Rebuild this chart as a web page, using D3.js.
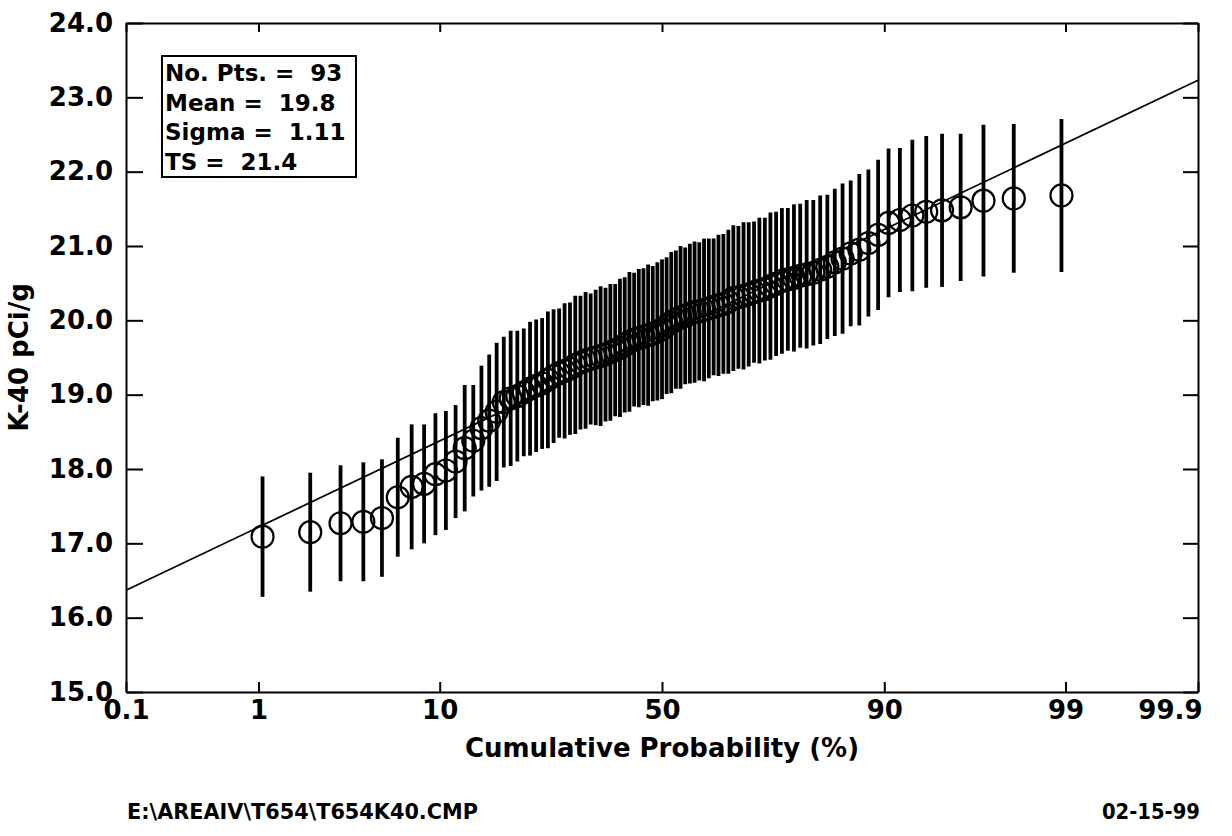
<!DOCTYPE html>
<html>
<head>
<meta charset="utf-8">
<script src="https://cdn.jsdelivr.net/npm/d3@7"></script>
<style>
  html, body { margin: 0; padding: 0; background: #fff; overflow: hidden; }
  svg { display: block; font-family: 'DejaVu Sans', sans-serif; font-weight: bold; }
  .axis path, .axis line { stroke: #000; stroke-width: 2; }
  .axis text { font-family: 'DejaVu Sans', sans-serif; font-weight: bold; font-size: 26px; fill: #000; }
</style>
</head>
<body>
<div id="chart"></div>
<script>
// K-40 probability plot: sorted values vs. cumulative probability (normal scale)

// sorted K-40 concentrations (pCi/g)
const kValues = [
  17.09, 17.15, 17.27, 17.29, 17.34, 17.62, 17.76, 17.80, 17.93, 17.98,
  18.10, 18.28, 18.38, 18.55, 18.65, 18.77, 18.90, 18.95, 18.98, 19.03,
  19.08, 19.12, 19.15, 19.20, 19.25, 19.29, 19.32, 19.35, 19.40, 19.43,
  19.46, 19.48, 19.50, 19.52, 19.54, 19.57, 19.60, 19.63, 19.67, 19.71,
  19.74, 19.76, 19.78, 19.80, 19.82, 19.85, 19.88, 19.93, 19.97, 20.01,
  20.04, 20.06, 20.09, 20.11, 20.12, 20.14, 20.16, 20.18, 20.20, 20.22,
  20.25, 20.30, 20.31, 20.33, 20.35, 20.38, 20.40, 20.42, 20.46, 20.49,
  20.53, 20.55, 20.57, 20.60, 20.62, 20.64, 20.68, 20.72, 20.78, 20.83,
  20.90, 20.95, 21.04, 21.15, 21.31, 21.35, 21.41, 21.46, 21.48, 21.52,
  21.61, 21.64, 21.68
];

// half-length of each error bar (pCi/g)
const kErrors = [
  0.81, 0.80, 0.78, 0.80, 0.79, 0.80, 0.84, 0.80, 0.82, 0.80,
  0.76, 0.85, 0.75, 0.84, 0.89, 0.93, 0.88, 0.91, 0.88, 0.86,
  0.90, 0.89, 0.88, 0.92, 0.90, 0.87, 0.91, 0.89, 0.93, 0.90,
  0.92, 0.88, 0.91, 0.94, 0.90, 0.92, 0.89, 0.93, 0.91, 0.94,
  0.90, 0.93, 0.92, 0.95, 0.91, 0.93, 0.94, 0.92, 0.95, 0.93,
  0.96, 0.92, 0.94, 0.95, 0.93, 0.96, 0.94, 0.92, 0.95, 0.94,
  0.97, 0.98, 0.96, 0.99, 0.97, 0.95, 0.98, 0.96, 0.99, 0.97,
  0.98, 0.96, 0.99, 0.97, 1.00, 0.98, 1.00, 0.97, 0.99, 1.01,
  0.98, 1.02, 0.99, 1.01, 1.00, 0.97, 1.02, 1.02, 1.03, 0.99,
  1.02, 1.00, 1.03
];

const fitMean = 19.8;
const fitSigma = 1.11;

const probTicks = [0.1, 1, 10, 50, 90, 99, 99.9];
const probLabels = ['0.1', '1', '10', '50', '90', '99', '99.9'];
const yTicks = [15, 16, 17, 18, 19, 20, 21, 22, 23, 24];

const statsLines = ['No. Pts. =  93', 'Mean =  19.8', 'Sigma =  1.11', 'TS =  21.4'];
const xTitle = 'Cumulative Probability (%)';
const yTitle = 'K-40 pCi/g';
const fileLabel = 'E:\\AREAIV\\T654\\T654K40.CMP';
const dateLabel = '02-15-99';

// inverse normal CDF (Acklam's rational approximation)
function probit(p) {
  const a = [-3.969683028665376e+01, 2.209460984245205e+02, -2.759285104469687e+02,
             1.383577518672690e+02, -3.066479806614716e+01, 2.506628277459239e+00];
  const b = [-5.447609879822406e+01, 1.615858368580409e+02, -1.556989798598866e+02,
             6.680131188771972e+01, -1.328068155288572e+01];
  const c = [-7.784894002430293e-03, -3.223964580411365e-01, -2.400758277161838e+00,
             -2.549732539343734e+00, 4.374664141464968e+00, 2.938163982698783e+00];
  const d = [7.784695709041462e-03, 3.224671290700398e-01, 2.445134137142996e+00,
             3.754408661907416e+00];
  const plow = 0.02425;
  let q, r;
  if (p < plow) {
    q = Math.sqrt(-2 * Math.log(p));
    return (((((c[0]*q+c[1])*q+c[2])*q+c[3])*q+c[4])*q+c[5]) /
           ((((d[0]*q+d[1])*q+d[2])*q+d[3])*q+1);
  }
  if (p > 1 - plow) {
    q = Math.sqrt(-2 * Math.log(1 - p));
    return -(((((c[0]*q+c[1])*q+c[2])*q+c[3])*q+c[4])*q+c[5]) /
            ((((d[0]*q+d[1])*q+d[2])*q+d[3])*q+1);
  }
  q = p - 0.5;
  r = q * q;
  return (((((a[0]*r+a[1])*r+a[2])*r+a[3])*r+a[4])*r+a[5])*q /
         (((((b[0]*r+b[1])*r+b[2])*r+b[3])*r+b[4])*r+1);
}

const width = 1232;
const height = 836;
const margin = { top: 23, right: 34, bottom: 144, left: 126 };
const innerWidth = width - margin.left - margin.right;
const innerHeight = height - margin.top - margin.bottom;

const svg = d3.select('#chart')
  .append('svg')
  .attr('width', width)
  .attr('height', height);

svg.append('rect')
  .attr('width', width)
  .attr('height', height)
  .attr('fill', '#fff');

const g = svg.append('g')
  .attr('transform', `translate(${margin.left},${margin.top})`);

// x works in normal-score units; ticks are placed at probit(p)
const x = d3.scaleLinear()
  .domain([probit(0.001), probit(0.999)])
  .range([0, innerWidth]);

const y = d3.scaleLinear()
  .domain([15, 24])
  .range([innerHeight, 0]);

const n = kValues.length;
const points = kValues.map((v, i) => ({
  z: probit((i + 1) / (n + 1)),
  v: v,
  e: kErrors[i]
}));

// error bars
g.selectAll('.err')
  .data(points)
  .enter().append('line')
  .attr('class', 'err')
  .attr('x1', d => x(d.z))
  .attr('x2', d => x(d.z))
  .attr('y1', d => y(d.v - d.e))
  .attr('y2', d => y(d.v + d.e))
  .attr('stroke', '#000')
  .attr('stroke-width', 3.8);

// fitted normal line
g.append('path')
  .datum(x.domain())
  .attr('d', d3.line()
    .x(z => x(z))
    .y(z => y(fitMean + fitSigma * z)))
  .attr('fill', 'none')
  .attr('stroke', '#000')
  .attr('stroke-width', 1.7);

// data circles
g.selectAll('.pt')
  .data(points)
  .enter().append('circle')
  .attr('class', 'pt')
  .attr('cx', d => x(d.z))
  .attr('cy', d => y(d.v))
  .attr('r', 11)
  .attr('fill', 'none')
  .attr('stroke', '#000')
  .attr('stroke-width', 2.2);

// axes: ticks point inward, frame all round
const probZ = probTicks.map(p => probit(p / 100));

const xAxis = g.append('g')
  .attr('class', 'axis')
  .attr('transform', `translate(0,${innerHeight})`)
  .call(d3.axisBottom(x).tickValues(probZ).tickSize(-10).tickSizeOuter(0)
    .tickPadding(9).tickFormat((d, i) => probLabels[i]));

xAxis.selectAll('.tick text')
  .filter((d, i) => i === probZ.length - 1)
  .attr('text-anchor', 'end')
  .attr('dx', 4);

g.append('g')
  .attr('class', 'axis')
  .call(d3.axisTop(x).tickValues(probZ).tickSize(-9).tickSizeOuter(0))
  .selectAll('text').remove();

g.append('g')
  .attr('class', 'axis')
  .call(d3.axisLeft(y).tickValues(yTicks).tickSize(-17).tickSizeOuter(0)
    .tickPadding(13).tickFormat(d3.format('.1f')));

g.append('g')
  .attr('class', 'axis')
  .attr('transform', `translate(${innerWidth},0)`)
  .call(d3.axisRight(y).tickValues(yTicks).tickSize(-15).tickSizeOuter(0))
  .selectAll('text').remove();

// stats box
const box = g.append('g')
  .attr('transform', 'translate(36,33)');

box.append('rect')
  .attr('width', 194)
  .attr('height', 121)
  .attr('fill', '#fff')
  .attr('stroke', '#000')
  .attr('stroke-width', 2);

box.selectAll('text')
  .data(statsLines)
  .enter().append('text')
  .attr('x', 3)
  .attr('y', (d, i) => 25 + i * 29.5)
  .attr('font-size', 23)
  .attr('xml:space', 'preserve')
  .text(d => d);

// titles
svg.append('text')
  .attr('x', margin.left + innerWidth / 2)
  .attr('y', 757)
  .attr('text-anchor', 'middle')
  .attr('font-size', 26)
  .text(xTitle);

svg.append('text')
  .attr('transform', `translate(28,${margin.top + innerHeight / 2}) rotate(-90)`)
  .attr('text-anchor', 'middle')
  .attr('font-size', 26)
  .text(yTitle);

svg.append('text')
  .attr('x', 127)
  .attr('y', 819)
  .attr('font-size', 22)
  .attr('textLength', 351)
  .attr('lengthAdjust', 'spacingAndGlyphs')
  .text(fileLabel);

svg.append('text')
  .attr('x', 1200)
  .attr('y', 819)
  .attr('text-anchor', 'end')
  .attr('font-size', 22)
  .attr('textLength', 98)
  .attr('lengthAdjust', 'spacingAndGlyphs')
  .text(dateLabel);
</script>
</body>
</html>
